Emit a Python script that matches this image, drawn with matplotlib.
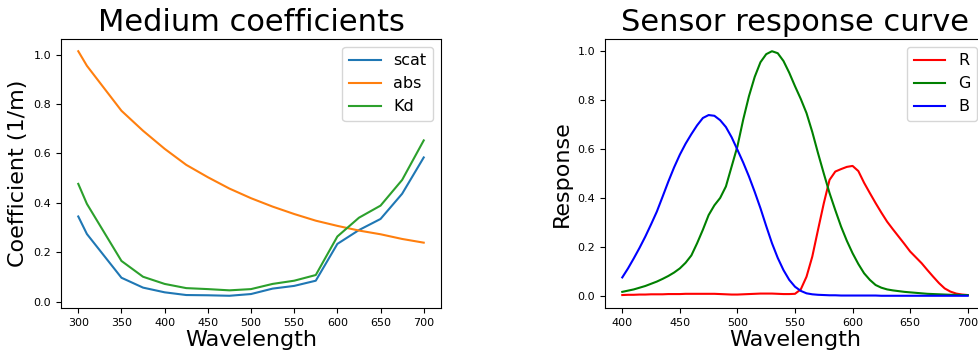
import numpy as np
import matplotlib
matplotlib.use("Agg")
import matplotlib.pyplot as plt

# medium coefficients vs wavelength (nm)
medium_wl = [300, 310, 350, 375, 400, 425, 450, 475, 500, 525, 550, 575, 600, 625, 650, 675, 700]
scat = [0.345, 0.274, 0.097, 0.057, 0.038, 0.027, 0.026, 0.024, 0.031, 0.053, 0.064, 0.085,
        0.234, 0.290, 0.335, 0.437, 0.584]
absorb = [1.014, 0.955, 0.773, 0.692, 0.619, 0.554, 0.504, 0.458, 0.419, 0.385, 0.355, 0.328,
          0.307, 0.288, 0.273, 0.254, 0.239]
kd = [0.477, 0.396, 0.165, 0.101, 0.072, 0.055, 0.051, 0.046, 0.051, 0.072, 0.085, 0.108,
      0.264, 0.340, 0.389, 0.493, 0.653]

# camera sensor spectral response, 5 nm steps from 400 to 700
sensor_wl = list(range(400, 705, 5))
resp_r = [0.003, 0.004, 0.004, 0.005, 0.005, 0.006, 0.006, 0.006, 0.007, 0.007,
          0.007, 0.008, 0.008, 0.008, 0.008, 0.008, 0.008, 0.007, 0.006, 0.005,
          0.005, 0.006, 0.007, 0.008, 0.009, 0.009, 0.009, 0.008, 0.007, 0.007,
          0.008, 0.026, 0.078, 0.160, 0.270, 0.378, 0.474, 0.508, 0.518, 0.527,
          0.531, 0.510, 0.462, 0.420, 0.379, 0.340, 0.303, 0.272, 0.242, 0.212,
          0.181, 0.157, 0.133, 0.105, 0.078, 0.052, 0.030, 0.017, 0.009, 0.005,
          0.003]
resp_g = [0.016, 0.021, 0.026, 0.033, 0.040, 0.049, 0.058, 0.069, 0.081, 0.095,
          0.112, 0.135, 0.165, 0.215, 0.270, 0.330, 0.370, 0.400, 0.447, 0.529,
          0.611, 0.720, 0.816, 0.895, 0.955, 0.988, 1.000, 0.992, 0.960, 0.912,
          0.857, 0.805, 0.747, 0.670, 0.583, 0.500, 0.420, 0.350, 0.283, 0.225,
          0.174, 0.130, 0.092, 0.065, 0.044, 0.033, 0.026, 0.022, 0.019, 0.016,
          0.014, 0.012, 0.010, 0.008, 0.007, 0.006, 0.005, 0.004, 0.004, 0.003,
          0.003]
resp_b = [0.075, 0.112, 0.153, 0.196, 0.242, 0.292, 0.344, 0.405, 0.467, 0.525,
          0.577, 0.622, 0.661, 0.697, 0.727, 0.739, 0.736, 0.718, 0.690, 0.648,
          0.597, 0.545, 0.488, 0.425, 0.358, 0.285, 0.215, 0.155, 0.105, 0.065,
          0.037, 0.020, 0.010, 0.006, 0.004, 0.003, 0.002, 0.002, 0.001, 0.001,
          0.001, 0.001, 0.001, 0.001, 0.001, 0.0, 0.0, 0.0, 0.0, 0.0,
          0.0, 0.0, 0.0, 0.0, 0.0, 0.0, 0.0, 0.0, 0.0, 0.0,
          0.0]


def main():
    fig = plt.figure(figsize=(9.79, 3.53), dpi=100)
    ax1 = fig.add_axes([61 / 979, 45 / 353, 380 / 979, 269 / 353])
    ax2 = fig.add_axes([605 / 979, 45 / 353, 380 / 979, 269 / 353])

    ax1.plot(medium_wl, scat, label="scat")
    ax1.plot(medium_wl, absorb, label="abs")
    ax1.plot(medium_wl, kd, label="Kd")
    ax1.set_title("Medium coefficients", fontsize=22)
    ax1.set_xlabel("Wavelength", fontsize=16, labelpad=2)
    ax1.set_ylabel("Coefficient (1/m)", fontsize=16)
    ax1.set_xticks(np.arange(300, 701, 50))
    ax1.tick_params(labelsize=8)
    ax1.legend(loc="upper right", fontsize=11.5)

    ax2.plot(sensor_wl, resp_r, color="r", label="R")
    ax2.plot(sensor_wl, resp_g, color="g", label="G")
    ax2.plot(sensor_wl, resp_b, color="b", label="B")
    ax2.set_title("Sensor response curve", fontsize=22)
    ax2.set_xlabel("Wavelength", fontsize=16, labelpad=2)
    ax2.set_ylabel("Response", fontsize=16)
    ax2.tick_params(labelsize=8)
    ax2.legend(loc="upper right", fontsize=11.5)

    fig.savefig("out.png", dpi=100)


if __name__ == "__main__":
    main()
